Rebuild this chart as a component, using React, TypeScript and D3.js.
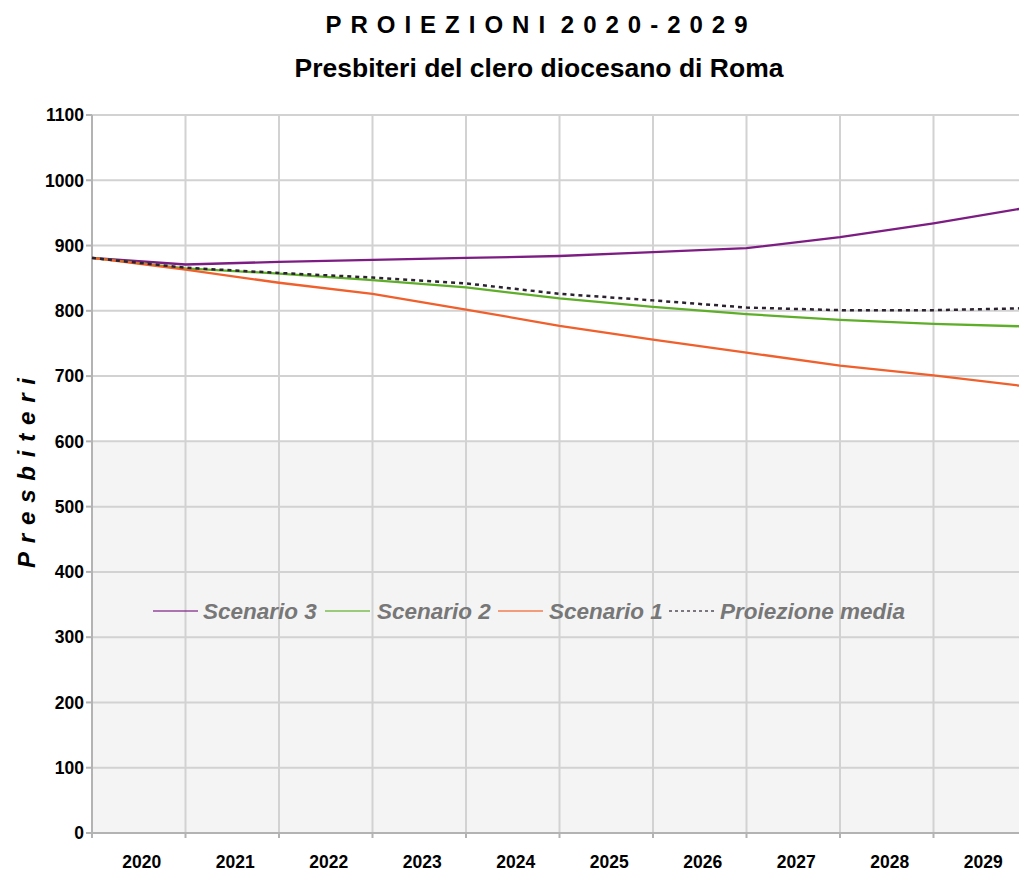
import React from "react";
import * as d3 from "d3";

const years = ["2020", "2021", "2022", "2023", "2024", "2025", "2026", "2027", "2028", "2029"];
const yTicks = [0, 100, 200, 300, 400, 500, 600, 700, 800, 900, 1000, 1100];
const scenario3 = [881, 871, 875, 878, 881, 884, 890, 896, 913, 934, 958];
const scenario2 = [881, 865, 857, 847, 836, 819, 806, 795, 786, 780, 776];
const scenario1 = [881, 863, 843, 826, 802, 777, 756, 736, 716, 701, 684];
const media = [881, 866, 858, 851, 842, 826, 816, 805, 801, 801, 804];

const series = [
  { name: "Scenario 3", values: scenario3, color: "#7d1c82", dash: "" },
  { name: "Scenario 2", values: scenario2, color: "#5fae2a", dash: "" },
  { name: "Scenario 1", values: scenario1, color: "#f0602c", dash: "" },
  { name: "Proiezione media", values: media, color: "#2b2230", dash: "4,4" },
];

const W = 1019;
const H = 871;
const left = 92;
const top = 115;
const bottom = 833;
const step = 93.5;

export default function App() {
  const x = d3.scaleLinear().domain([0, 10]).range([left, left + 10 * step]);
  const y = d3.scaleLinear().domain([0, 1100]).range([bottom, top]);
  const band = d3.scaleBand().domain(years).range([left, left + 10 * step]);
  const line = d3
    .line<number>()
    .x((_, i) => x(i))
    .y((d) => y(d));
  const font = "'Liberation Sans', Arial, sans-serif";
  const gridX = d3.range(0, 11);
  const legendX = [153, 325, 498, 669];
  const legendTextX = [203, 377, 549, 720];
  const titleSpacing = 9.0;
  const axisSpacing = 8.8;
  return (
    <svg
      width={W}
      height={H}
      style={{ position: "absolute", left: 0, top: 0, background: "#fff" }}
      fontFamily={font}
    >
      <text
        x={536.5 + titleSpacing / 2}
        y={33}
        textAnchor="middle"
        fontSize={24}
        fontWeight="bold"
        letterSpacing={`${titleSpacing}px`}
      >
        <tspan>PROIEZIONI</tspan>
        <tspan letterSpacing="0px"> </tspan>
        <tspan>2020-2029</tspan>
      </text>
      <text x={539} y={77} textAnchor="middle" fontSize={26.5} fontWeight="bold">
        Presbiteri del clero diocesano di Roma
      </text>
      <rect x={left} y={y(600)} width={W - left} height={bottom - y(600)} fill="#f4f4f4" />
      {yTicks.map((t) => (
        <line key={"gy" + t} x1={left} x2={W} y1={y(t)} y2={y(t)} stroke="#d2d2d2" strokeWidth={2} />
      ))}
      {gridX.map((i) => (
        <line key={"gx" + i} x1={x(i)} x2={x(i)} y1={top} y2={bottom} stroke="#d2d2d2" strokeWidth={2} />
      ))}
      <line x1={left} x2={left} y1={top} y2={bottom} stroke="#b3b3b3" strokeWidth={2} />
      <line x1={left} x2={W} y1={bottom} y2={bottom} stroke="#b3b3b3" strokeWidth={2} />
      {yTicks.map((t) => (
        <g key={"ty" + t}>
          <line x1={86} x2={left} y1={y(t)} y2={y(t)} stroke="#b3b3b3" strokeWidth={2} />
          <text x={84} y={y(t)} dy="0.36em" textAnchor="end" fontSize={17.5} fontWeight="bold">
            {t}
          </text>
        </g>
      ))}
      {gridX.map((i) => (
        <line key={"tx" + i} x1={x(i)} x2={x(i)} y1={bottom} y2={bottom + 5} stroke="#b3b3b3" strokeWidth={2} />
      ))}
      {years.map((yr) => (
        <text
          key={yr}
          x={(band(yr) as number) + band.bandwidth() / 2 + 3}
          y={868}
          textAnchor="middle"
          fontSize={17.5}
          fontWeight="bold"
        >
          {yr}
        </text>
      ))}
      <text
        transform={`translate(35,${473 - axisSpacing / 2}) rotate(-90)`}
        textAnchor="middle"
        fontSize={24}
        fontWeight="bold"
        fontStyle="italic"
        letterSpacing={`${axisSpacing}px`}
      >
        Presbiteri
      </text>
      {series.map((s) => (
        <path
          key={s.name}
          d={line(s.values) || ""}
          fill="none"
          stroke={s.color}
          strokeWidth={s.dash ? 2.5 : 2.3}
          strokeDasharray={s.dash || undefined}
        />
      ))}
      {series.map((s, i) => (
        <g key={"lg" + s.name}>
          <line
            x1={legendX[i]}
            x2={legendX[i] + 45}
            y1={611}
            y2={611}
            stroke={s.color}
            strokeOpacity={0.6}
            strokeWidth={2}
            strokeDasharray={s.dash ? "3,3" : undefined}
          />
          <text
            x={legendTextX[i]}
            y={611}
            dy="0.35em"
            fontSize={22.5}
            fontWeight="bold"
            fontStyle="italic"
            fill="#777777"
          >
            {s.name}
          </text>
        </g>
      ))}
    </svg>
  );
}
